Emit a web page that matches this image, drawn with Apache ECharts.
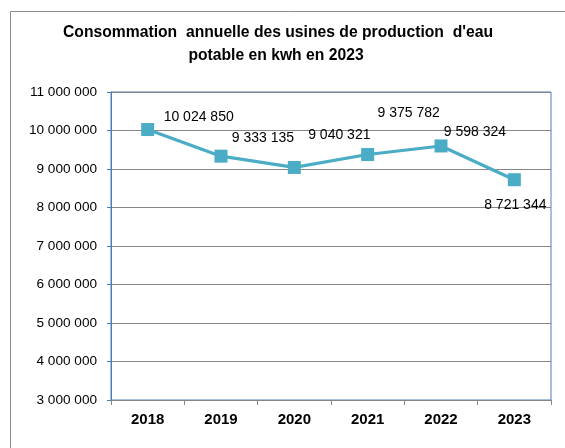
<!DOCTYPE html>
<html><head><meta charset="utf-8">
<script src="https://cdn.jsdelivr.net/npm/echarts@6/dist/echarts.min.js"></script>
<style>html,body{margin:0;padding:0;background:#fff}#c{width:565px;height:448px}</style>
</head><body><div id="c"></div>
<script>
const years = ['2018','2019','2020','2021','2022','2023'];
const consumption = [10024850, 9333135, 9040321, 9375782, 9598324, 8721344];
const titleLines = ["Consommation  annuelle des usines de production  d'eau", "potable en kwh en 2023"];
// label offsets (layout only)
const labelOffsets = [[51,-12],[42,-18],[45,-32],[41,-41],[34,-14],[1,25]];

function fmt(v){ return String(Math.round(v)).replace(/\B(?=(\d{3})+(?!\d))/g,' '); }

const titleFont = {fontFamily:'Liberation Sans', fontWeight:'bold', fontSize:15.7, fill:'#000', textAlign:'center', textVerticalAlign:'middle'};
const chart = echarts.init(document.getElementById('c'), null, {renderer:'canvas'});
chart.setOption({
  animation:false,
  backgroundColor:'#fff',
  graphic:[
    {type:'rect', shape:{x:10.5,y:11.5,width:700,height:600}, style:{fill:'none', stroke:'#8c8c8c', lineWidth:1}, z:-1, silent:true},
    {type:'text', x:278, y:33, style:Object.assign({text:titleLines[0]}, titleFont), silent:true},
    {type:'text', x:276, y:56, style:Object.assign({text:titleLines[1]}, titleFont), silent:true}
  ],
  grid:{left:111, right:14, top:92, bottom:48, show:true, borderColor:'#4a7ebb', borderWidth:1, backgroundColor:'transparent'},
  xAxis:{
    type:'category', data:years, boundaryGap:true,
    axisLine:{lineStyle:{color:'#868686', width:1}},
    axisTick:{show:true, length:5, lineStyle:{color:'#868686'}},
    axisLabel:{margin:12, fontFamily:'Liberation Sans', fontWeight:'bold', fontSize:15, color:'#000'}
  },
  yAxis:{
    type:'value', min:3000000, max:11000000, interval:1000000,
    axisLine:{show:true, lineStyle:{color:'#4a7ebb'}},
    axisTick:{show:true, length:4, lineStyle:{color:'#4a7ebb'}},
    axisLabel:{margin:14, fontFamily:'Liberation Sans', fontSize:13.6, color:'#000', formatter:fmt},
    splitLine:{lineStyle:{color:'#868686', width:1}}
  },
  series:[{
    type:'line', data:consumption.map((v,i)=>({value:v, label:{offset:labelOffsets[i]}})),
    symbol:'rect', symbolSize:13,
    itemStyle:{color:'#4bacc6'},
    lineStyle:{color:'#4bacc6', width:3.2},
    label:{show:true, position:'inside', fontFamily:'Liberation Sans', fontSize:14, color:'#000', formatter:p=>fmt(p.value)}
  }]
});
</script></body></html>
